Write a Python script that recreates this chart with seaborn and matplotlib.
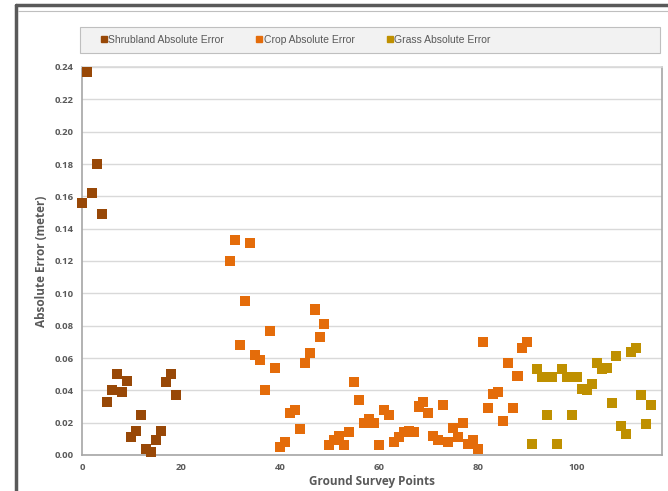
import numpy as np
import pandas as pd
import matplotlib
matplotlib.use("Agg")
import matplotlib.pyplot as plt
import seaborn as sns
from matplotlib.patches import Rectangle
from matplotlib.lines import Line2D

# ------------------------------------------------------------
# Data
# ------------------------------------------------------------
shrub_x = list(range(0, 20))
shrub_err = [0.156, 0.237, 0.162, 0.180, 0.149, 0.033, 0.040, 0.050, 0.039, 0.046,
             0.011, 0.015, 0.025, 0.004, 0.002, 0.009, 0.015, 0.045, 0.050, 0.037]

crop_x = list(range(30, 91))
crop_err = [0.120, 0.133, 0.068, 0.095, 0.131, 0.062, 0.059, 0.040, 0.077, 0.054,
            0.005, 0.008, 0.026, 0.028, 0.016, 0.057, 0.063, 0.090, 0.073, 0.081,
            0.006, 0.009, 0.012, 0.006, 0.014, 0.045, 0.034, 0.020, 0.022, 0.020,
            0.006, 0.028, 0.025, 0.008, 0.011, 0.014, 0.015, 0.014, 0.030, 0.033,
            0.026, 0.012, 0.009, 0.031, 0.008, 0.017, 0.011, 0.020, 0.007, 0.009,
            0.004, 0.070, 0.029, 0.038, 0.039, 0.021, 0.057, 0.029, 0.049, 0.066,
            0.070]

grass_x = list(range(91, 116))
grass_err = [0.007, 0.053, 0.048, 0.025, 0.048, 0.007, 0.053, 0.048, 0.025, 0.048,
             0.041, 0.040, 0.044, 0.057, 0.053, 0.054, 0.032, 0.061, 0.018, 0.013,
             0.064, 0.066, 0.037, 0.019, 0.031]

series_names = ["Shrubland Absolute Error", "Crop Absolute Error", "Grass Absolute Error"]
series_colors = ["#984807", "#E46C0A", "#BF9000"]

df = pd.concat([
    pd.DataFrame({"point": shrub_x, "err": shrub_err, "series": series_names[0]}),
    pd.DataFrame({"point": crop_x, "err": crop_err, "series": series_names[1]}),
    pd.DataFrame({"point": grass_x, "err": grass_err, "series": series_names[2]}),
], ignore_index=True)

# ------------------------------------------------------------
# Plot
# ------------------------------------------------------------
sns.set_style("white")
plt.rcParams["font.family"] = ["Open Sans", "DejaVu Sans"]

W, H = 668, 491
fig = plt.figure(figsize=(W / 100, H / 100), dpi=100)
ax = fig.add_axes([82 / W, 1 - 455 / H, (662 - 82) / W, (455 - 67) / H])

sns.scatterplot(data=df, x="point", y="err", hue="series", palette=series_colors,
                marker="s", s=52, linewidth=0, clip_on=False, zorder=3,
                legend=False, ax=ax)

ax.set_xlim(0, 117.2)
ax.set_ylim(0, 0.24)
ax.set_xticks([0, 20, 40, 60, 80, 100])
ax.set_yticks(np.arange(0, 0.2401, 0.02))
ax.yaxis.set_major_formatter(matplotlib.ticker.FormatStrFormatter("%.2f"))
ax.grid(axis="y", color="#d9d9d9", linewidth=1)
ax.set_axisbelow(True)

for side in ["left", "bottom", "right", "top"]:
    ax.spines[side].set_color("#a6a6a6")
    ax.spines[side].set_linewidth(1.2)
ax.spines["top"].set_color("#d9d9d9")

ax.tick_params(axis="both", length=3, width=0.8, color="#a6a6a6",
               labelsize=6.8, labelcolor="#595959", pad=3)
for lab in ax.get_xticklabels() + ax.get_yticklabels():
    lab.set_fontweight("bold")

ax.set_xlabel("Ground Survey Points", fontsize=8.5, fontweight="bold", color="#595959", labelpad=2)
ax.set_ylabel("Absolute Error (meter)", fontsize=8.5, fontweight="bold", color="#595959", labelpad=5)

# outer frame of the chart
fig.add_artist(Line2D([16 / W, 16 / W], [0, 1 - 5 / H], transform=fig.transFigure,
                      color="#595959", linewidth=2.5))
fig.add_artist(Line2D([16 / W, 1], [1 - 5 / H, 1 - 5 / H], transform=fig.transFigure,
                      color="#595959", linewidth=2.5))
fig.add_artist(Line2D([18 / W, 1], [1 - 11 / H, 1 - 11 / H], transform=fig.transFigure,
                      color="#bfbfbf", linewidth=0.8))

# legend box
fig.add_artist(Rectangle((80 / W, 1 - 53 / H), (660 - 80) / W, 26 / H,
                         transform=fig.transFigure, facecolor="#f2f2f2",
                         edgecolor="#bfbfbf", linewidth=0.8))
handles = [Line2D([], [], marker="s", linestyle="", markersize=5, color=c)
           for c in series_colors]
fig.legend(handles, series_names, loc="center left", ncol=3, frameon=False,
           bbox_to_anchor=(101 / W, 1 - 40 / H), handlelength=0.6, handletextpad=0.1,
           columnspacing=3.1, prop={"family": ["Liberation Sans"], "size": 7.5},
           labelcolor="#595959", borderaxespad=0, borderpad=0)

fig.savefig("out.png", dpi=100)
